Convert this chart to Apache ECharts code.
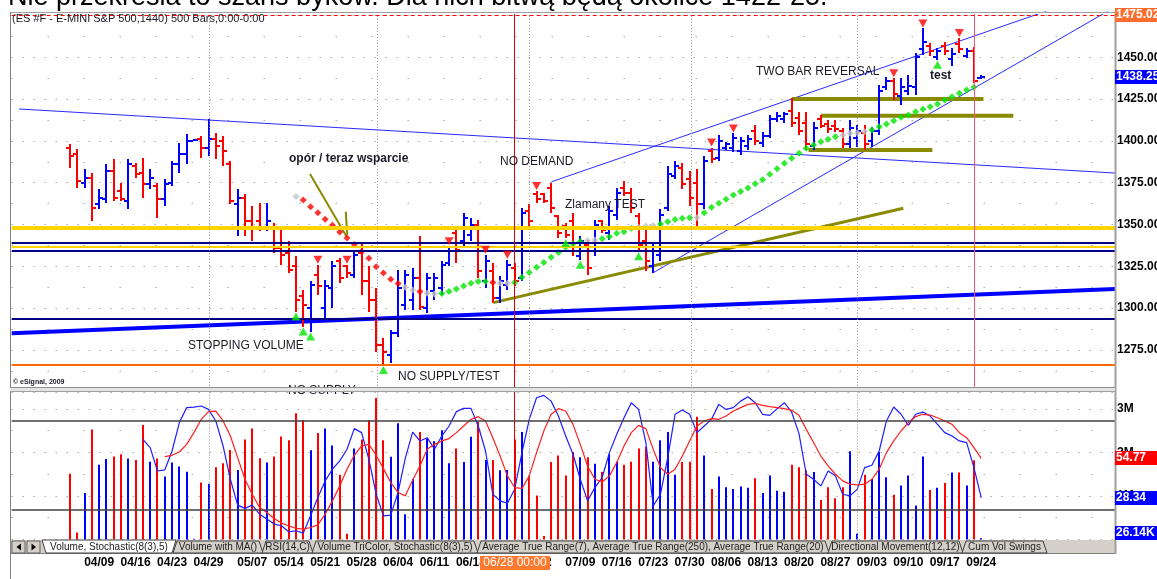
<!DOCTYPE html>
<html>
<head>
<meta charset="utf-8">
<script src="https://cdn.jsdelivr.net/npm/echarts@6/dist/echarts.min.js"></script>
<style>
    html, body {margin: 0; padding: 0; background: #fff;}
    #chart {width: 1157px; height: 579px;}
</style>
</head>
<body>
<div id="chart"></div>
<script>
// daily bars, ES #F 2012-04-02 .. 2012-09-24 (index = bar number)
var opens = [1396,1392,1375,1378,1362,1365,1382,1370,1364,1385, 1381,1374,1373,1365,1375,1386,1392,1400,1401,1396,
    1401,1400,1386,1362,1366,1352,1352,1348,1348,1336, 1333,1325,1307,1300,1320,1300,1312,1328,1325,1320,
    1333,1316,1305,1278,1272,1285,1302,1305,1318,1300, 1310,1312,1327,1345,1340,1344,1350,1316,1322,1306,
    1314,1324,1318,1358,1368,1368,1372,1355,1349,1352, 1331,1338,1334,1352,1345,1356,1372,1369,1355,1340,
    1325,1332,1360,1379,1384,1377,1375,1362,1394,1390, 1396,1396,1394,1397,1406,1399,1403,1413,1413,1418,
    1414,1411,1397,1413,1410,1409,1406,1398,1402,1405, 1400,1406,1432,1436,1427,1430,1432,1455,1457,1450,
    1457,1449,1458,1451,1454,1437.5];
var highs = [1398,1395,1383,1381,1371,1386,1389,1375,1389,1387, 1390,1383,1375,1377,1388,1399,1404,1401,1403,1413,
    1405,1403,1388,1371,1368,1361,1363,1363,1351,1348, 1340,1331,1311,1316,1326,1317,1328,1330,1326,1334,
    1339,1325,1312,1282,1287,1323,1323,1324,1343,1321, 1321,1328,1337,1349,1357,1354,1353,1332,1327,1319,
    1329,1327,1360,1362,1370,1369,1375,1356,1351,1357, 1343,1341,1353,1353,1361,1372,1376,1372,1357,1347,
    1339,1359,1385,1388,1387,1382,1383,1391,1396,1403.5, 1399.5,1404.5,1402.5,1403.5,1409.5,1405.5,1415.5,1417.5,1417.5,1425.5,
    1417.5,1417.5,1411.5,1415.5,1412.5,1412.5,1407.5,1412.5,1409.5,1409.5, 1408.5,1433.5,1438.5,1437.5,1437.5,1439.5,1452.5,1467.25,1458.5,1455.5,
    1459.25,1455.5,1461.5,1455.5,1456.25,1439.5];
var lows = [1384,1372,1372,1352,1359,1363,1364,1364,1359,1378, 1366,1371,1354,1361,1373,1381,1386,1400,1390,1391,
    1389,1385,1362,1343,1343,1340,1346,1346,1333,1326, 1321,1298,1289,1286,1308,1294,1300,1315,1318,1318,
    1308,1298,1274,1266,1267,1283,1299,1299,1299,1297, 1305,1308,1325,1327,1337,1340,1318,1312,1303,1303,
    1311,1313,1316,1349,1363,1363,1357,1342,1342,1331, 1329,1320,1331,1345,1341,1353,1367,1357,1334,1322,
    1321,1328,1358,1377,1371,1361,1349,1359,1387,1388, 1394.5,1393.5,1391.5,1394.5,1397.5,1396.5,1401.5,1411.5,1410.5,1408.5,
    1403.5,1394.5,1394.5,1407.5,1404.5,1405.5,1395.5,1395.5,1396.5,1394.5, 1396.5,1403.5,1430.5,1424.5,1421.5,1427.5,1427.5,1451.5,1450.5,1448.5,
    1451.5,1444.5,1452.5,1449.5,1434.5,1437];
var closes = [1391,1376,1378,1360,1366,1382,1366,1365,1386,1380, 1374,1378,1365,1374,1386,1392,1400,1400.5,1396,1401,
    1397,1394,1364,1366,1352,1348,1348,1352,1336,1332, 1323,1305,1302,1314,1313,1313,1325,1318,1321,1332,
    1316,1305,1278,1274,1285,1312,1320,1318,1301,1318, 1318,1326,1334,1335,1354,1350,1322,1328,1306,1316,
    1326,1316,1357,1352,1365,1364,1360,1345,1344,1334, 1340,1324,1350,1347,1358,1369,1369,1360,1338,1328,
    1334,1356,1380,1385,1374,1366,1362,1388,1389,1400, 1398,1402,1400,1401,1400,1403,1413,1415,1416,1411,
    1406,1398,1408,1409,1407,1407,1398,1408,1406,1398, 1406,1430,1436,1428,1432,1433,1450,1459,1454,1454,
    1454,1452,1455,1454,1436,1438.25];
// volume, millions
var volumes = [1.51,0.16,1.07,2.53,1.72,1.85,1.91,1.96,1.86,1.83, 2.63,1.79,1.86,1.45,1.77,1.68,1.56,0.02,1.31,1.28,
    1.66,1.75,2.06,1.60,2.30,2.55,1.87,1.77,1.91,2.37, 2.28,2.90,2.74,2.05,2.45,2.55,2.16,1.49,0.13,2.09,
    2.30,2.74,3.25,2.28,1.90,2.67,0.58,1.39,2.47,2.32, 2.26,2.51,1.75,2.09,1.78,2.36,2.70,1.83,1.83,1.59,
    1.60,2.30,2.47,1.47,1.01,0.08,1.78,1.93,1.47,2.01, 1.89,1.89,1.74,1.55,1.96,1.79,1.72,1.79,2.09,2.13,
    1.79,2.28,2.47,1.49,1.78,1.79,2.82,1.93,1.16,1.45, 1.20,1.16,1.22,1.19,1.41,1.07,1.47,1.12,1.10,1.72,
    1.66,1.59,1.55,0.91,1.20,0.95,1.20,2.03,0.13,1.49, 1.39,2.01,1.43,1.03,1.24,1.47,0.78,1.91,1.14,1.19,
    1.30,1.54,1.54,1.24,1.82,0.02614];
// Stochastic(8(3),5): %K and %D
var stochK = [null,null,null,null,null,null,null,null,null,null, 67.7,62.1,46.3,47.0,59.8,79.0,89.1,89.5,90.2,87.9,
    80.1,63.2,40.7,23.2,21.0,23.2,17.1,13.8,10.4,9.3, 5.2,5.9,4.3,16.0,28.4,39.6,47.5,53.1,61.0,74.9,
    72.2,54.2,30.6,16.0,16.5,31.8,55.0,72.6,66.6,68.8, 61.0,69.9,76.7,86.4,88.6,88.6,76.7,59.8,30.6,26.1,
    24.5,34.0,58.7,81.2,95.8,97.4,93.5,83.4,69.9,57.6, 40.7,26.1,35.1,41.9,58.7,71.1,82.3,92.4,87.9,65.5,
    22.7,30.6,55.3,84.6,87.5,84.6,72.2,76.7,81.2,91.3, 87.9,89.1,93.5,96.5,92.4,84.6,83.9,88.4,92.4,86.0,
    71.5,44.1,40.7,36.2,46.3,43.0,30.6,29.5,34.0,48.6, 50.2,59.8,80.1,89.5,84.6,77.1,84.6,86.1,83.4,77.8,
    72.2,69.9,66.6,65.5,48.6,28.34];
var stochD = [null,null,null,null,null,null,null,null,null,null, null,null,null,56.0,56.9,59.1,64.3,72.2,81.2,86.4,
    86.8,80.1,69.9,55.3,40.7,30.6,21.6,18.3,14.2,11.1, 9.3,7.5,7.0,8.1,9.9,17.1,26.1,36.2,47.5,56.9,
    63.2,64.3,56.9,47.9,38.5,31.8,29.5,40.0,49.7,61.0, 64.3,66.6,68.2,72.2,76.7,81.2,83.0,80.1,68.8,56.4,
    43.0,35.1,34.5,43.0,58.7,73.3,84.6,88.4,86.8,77.8, 64.3,49.7,40.7,38.9,43.0,52.0,63.2,72.2,77.1,74.9,
    61.0,48.6,44.1,47.5,56.4,66.6,76.7,80.1,81.7,81.2, 83.4,86.8,89.1,91.3,92.0,90.6,89.8,89.1,88.4,87.3,
    83.9,74.4,65.5,56.4,49.7,44.1,39.6,37.4,36.9,37.4, 40.7,47.5,58.7,66.6,73.3,79.0,83.0,84.6,84.1,82.3,
    80.1,77.8,72.2,68.8,62.1,54.77];
// colored moving average (dots) and its state: 1 up, -1 down, 0 flat
var maStart = 31;
var maValues = [1366.7,1364.7,1360.7,1357.0,1353.2,1349.6,1345.6,1342.0,1338.0,1333.8,
    1329.8,1324.8,1321.0,1317.3,1314.7,1312.5,1310.9,1309.9,1308.9,1308.5,
    1308.7,1309.9,1311.5,1313.3,1314.9,1315.9,1315.9,1315.3,1314.9,1314.9,
    1315.3,1318.5,1321.3,1324.5,1327.3,1330.5,1333.3,1336.5,1338.5,1339.8,
    1340.5,1340.8,1341.5,1342.7,1344.8,1345.7,1347.8,1348.4,1349.2,1349.4,
    1350.4,1351.7,1353.0,1353.7,1354.0,1354.0,1357.1,1360.3,1362.7,1365.1,
    1367.7,1369.8,1371.9,1374.4,1376.8,1380.0,1383.3,1386.6,1389.6,1392.6,
    1395.6,1397.6,1399.5,1401.0,1402.5,1403.5,1404.6,1404.9,1405.5,1406.5,
    1408.5,1410.1,1412.1,1414.1,1415.5,1417.5,1418.9,1420.5,1422.1,1424.5,
    1426.4,1428.5,1430.4,1432.1];
var maTrend = [0,-1,-1,-1,-1,-1,-1,-1,-1,-1, -1,-1,-1,-1,-1,0,0,-1,0,0,
    1,1,1,1,1,1,1,-1,0,0, 1,1,1,1,1,1,1,1,1,1,
    0,0,1,1,1,1,1,0,0,0, 1,1,1,1,1,0,1,1,1,1,
    1,1,1,1,1,1,1,1,1,1, 1,1,1,1,1,0,0,0,0,1,
    1,1,1,1,1,1,1,1,1,1, 1,1,1,1];
// swing markers
var sellBars = [34, 38, 52, 57, 60, 64, 88, 91, 113, 117, 122];
var buyBars = [31, 32, 33, 43, 68, 70, 78, 119];

// x axis
var tickBars = [4, 9, 14, 19, 25, 30, 35, 40, 45, 50, 55, 64, 70, 75, 80, 85, 90, 95, 100, 105, 110, 115, 120, 125];
var tickLabels = ['04/09', '04/16', '04/23', '04/29', '05/07', '05/14', '05/21', '05/28', '06/04', '06/11', '06/18', '07/02',
    '07/09', '07/16', '07/23', '07/30', '08/06', '08/13', '08/20', '08/27', '09/03', '09/10', '09/17', '09/24'];
var cursorBar = 61, cursorLabel = '06/28 00:00';
var lastBar = 124.1;
var gridBars = [19.07, 42.1, 62.96, 85.2, 107.96];

// drawn studies, [bar, price]
var levels = [1475.02, 1348.1, 1339.15, 1336.7, 1334.4, 1293.5, 1266.2];
var downTrend = [[-7.0, 1419.1], [143.35, 1380.8]];
var channelTop = [[66.06, 1375.6], [134.4, 1478.3]];
var channelBottom = [[80.0, 1321.2], [142.66, 1478.3]];
var supportLine = [[-8, 1285.0], [143.35, 1311.5]];
var risingLine = [[58.07, 1303.3], [114.31, 1359.7]];
var arrowA = [[32.92, 1380.2], [37.96, 1342.7]];
var arrowB = [[37.82, 1357.7], [38.04, 1343.8]];
var shelf1425 = [[99.04, 1425.0], [125.3, 1425.0]];
var shelf1415 = [[103.0, 1415.1], [129.4, 1415.1]];
var shelf1395 = [[101.3, 1394.6], [118.3, 1394.6]];

var RED = '#ff0000', BLUE = '#0000ff', GREEN = '#00e600', GRAY = '#c4c4c4';
var OLIVE = '#8a8a00', NAVY = '#000080', YELLOW = '#ffd400', ORANGE = '#ff6a00';
var FONT = 'Liberation Sans, Arial, sans-serif';

var chart = echarts.init(document.getElementById('chart'));

function renderBar(params, api) {
    var i = api.value(0);
    var h = api.coord([i, api.value(2)]);
    var l = api.coord([i, api.value(3)]);
    var o = api.coord([i, api.value(1)]);
    var c = api.coord([i, api.value(4)]);
    var color = api.value(4) >= api.value(1) ? BLUE : RED;
    var x = Math.round(h[0]);
    var yh = Math.round(h[1]), yl = Math.round(l[1]);
    if (yl - yh < 2) {
        yl = yh + 2;
    }
    return {
        type: 'group',
        children: [
            {type: 'rect', shape: {x: x - 1, y: yh, width: 2, height: yl - yh}, style: {fill: color}},
            {type: 'rect', shape: {x: x - 4, y: Math.round(o[1]) - 1, width: 3, height: 2}, style: {fill: color}},
            {type: 'rect', shape: {x: x + 1, y: Math.round(c[1]) - 1, width: 3, height: 2}, style: {fill: color}}
        ]
    };
}

function renderVolume(params, api) {
    var i = api.value(0);
    var top = api.coord([i, api.value(1)]);
    var base = api.coord([i, 0]);
    var x = Math.round(top[0]);
    return {
        type: 'rect',
        shape: {x: x - 1, y: top[1], width: 2, height: base[1] - top[1]},
        style: {fill: closes[i] >= opens[i] ? BLUE : RED}
    };
}

function studyLine(name, points, color, width, z) {
    return {
        name: name, type: 'line', xAxisIndex: 0, yAxisIndex: 0,
        data: points, symbol: 'none', silent: true, clip: true, z: z || 2,
        lineStyle: {color: color, width: width}
    };
}

var barData = opens.map(function (o, i) {
    return [i, o, highs[i], lows[i], closes[i]];
});
var volData = volumes.map(function (v, i) {
    return [i, v];
});
var kData = [], dData = [];
stochK.forEach(function (v, i) {
    if (v != null) kData.push([i, v]);
});
stochD.forEach(function (v, i) {
    if (v != null) dData.push([i, v]);
});
var maData = maValues.map(function (v, k) {
    return [maStart + k, v, maTrend[k]];
});

var monthLines = gridBars.map(function (b) {
    return {xAxis: b, lineStyle: {color: '#8c8c8c', type: [1, 2], width: 1}};
});

var option = {
    animation: false,
    backgroundColor: '#fff',
    grid: [
        {left: 11.68, right: 42, top: 12, height: 379.8, containLabel: false, outerBoundsMode: 'none'},
        {left: 11.68, right: 42, top: 391.5, height: 148, containLabel: false, outerBoundsMode: 'none'}
    ],
    xAxis: [
        {type: 'value', gridIndex: 0, min: -8, max: 143.35, show: false, splitLine: {show: false}},
        {
            type: 'value', gridIndex: 1, min: -8, max: 143.35, interval: 1,
            axisLine: {show: false}, axisTick: {show: false}, splitLine: {show: false},
            axisLabel: {
                margin: 17.5, color: '#000', fontFamily: FONT, fontSize: 12, fontWeight: 'bold',
                showMinLabel: true, showMaxLabel: true, hideOverlap: false,
                formatter: function (v) {
                    var r = Math.round(v);
                    if (Math.abs(v - r) > 1e-6) return '';
                    var k = tickBars.indexOf(r);
                    return k >= 0 ? tickLabels[k] : '';
                }
            }
        }
    ],
    yAxis: [
        {
            type: 'value', gridIndex: 0, position: 'right', min: 1250, max: 1477.08, interval: 25,
            axisLine: {show: false}, axisTick: {show: false},
            axisLabel: {
                margin: 2, color: '#000', fontFamily: FONT, fontSize: 12, fontWeight: 'bold',
                formatter: function (v) {
                    return (v >= 1275 && v <= 1450) ? v.toFixed(2) : '';
                }
            },
            splitLine: {show: true, lineStyle: {color: '#808080', type: [1, 10], width: 1}},
            minorTick: {show: false, splitNumber: 2},
            minorSplitLine: {show: true, lineStyle: {color: '#808080', type: [1, 35], width: 1}}
        },
        {
            type: 'value', gridIndex: 1, position: 'right', min: 0, max: 3.402, interval: 1,
            axisLine: {show: false}, axisTick: {show: false},
            axisLabel: {
                margin: 2, color: '#000', fontFamily: FONT, fontSize: 12, fontWeight: 'bold',
                formatter: function (v) {
                    return (v >= 1 && v <= 3 && v === Math.round(v)) ? v + 'M' : '';
                }
            },
            splitLine: {show: true, lineStyle: {color: '#808080', type: [1, 10], width: 1}},
            minorTick: {show: false, splitNumber: 2},
            minorSplitLine: {show: true, lineStyle: {color: '#808080', type: [1, 35], width: 1}}
        },
        {type: 'value', gridIndex: 1, min: 0, max: 100, show: false, splitLine: {show: false}}
    ],
    series: [
        {
            name: 'levels', type: 'line', xAxisIndex: 0, yAxisIndex: 0, data: supportLine, z: 1,
            symbol: 'none', silent: true, lineStyle: {color: BLUE, width: 4},
            markLine: {
                silent: true, symbol: 'none', label: {show: false}, animation: false,
                data: [
                    {yAxis: levels[0], lineStyle: {color: RED, type: [4, 3], width: 1}},
                    {yAxis: levels[1], lineStyle: {color: YELLOW, type: 'solid', width: 4}},
                    {yAxis: levels[2], lineStyle: {color: NAVY, type: 'solid', width: 2}},
                    {yAxis: levels[3], lineStyle: {color: YELLOW, type: 'solid', width: 2}},
                    {yAxis: levels[4], lineStyle: {color: NAVY, type: 'solid', width: 2}},
                    {yAxis: levels[5], lineStyle: {color: NAVY, type: 'solid', width: 2}},
                    {yAxis: levels[6], lineStyle: {color: ORANGE, type: 'solid', width: 2}},
                    {xAxis: cursorBar, lineStyle: {color: '#e00000', type: 'solid', width: 1}},
                    {xAxis: lastBar, lineStyle: {color: '#ff5078', type: 'solid', width: 1}}
                ].concat(monthLines)
            }
        },
        studyLine('downTrend', downTrend, '#2a2aff', 1),
        studyLine('channelTop', channelTop, '#2a2aff', 1),
        studyLine('channelBottom', channelBottom, '#2a2aff', 1),
        studyLine('risingLine', risingLine, OLIVE, 3),
        studyLine('arrowA', arrowA, OLIVE, 2),
        studyLine('arrowB', arrowB, OLIVE, 2),
        studyLine('shelf1425', shelf1425, OLIVE, 4),
        studyLine('shelf1415', shelf1415, OLIVE, 4),
        studyLine('shelf1395', shelf1395, OLIVE, 4),
        {
            name: 'ES', type: 'custom', xAxisIndex: 0, yAxisIndex: 0, z: 3,
            renderItem: renderBar, data: barData, encode: {x: 0, y: [1, 2, 3, 4]}, silent: true
        },
        {
            name: 'MA', type: 'scatter', xAxisIndex: 0, yAxisIndex: 0, z: 4, silent: true,
            symbol: 'diamond', symbolSize: 7, data: maData,
            itemStyle: {
                color: function (p) {
                    var t = p.data[2];
                    return t > 0 ? GREEN : (t < 0 ? RED : GRAY);
                }
            }
        },
        {
            name: 'sell', type: 'scatter', xAxisIndex: 0, yAxisIndex: 0, z: 5, silent: true,
            symbol: 'triangle', symbolRotate: 180, symbolSize: [9, 8], symbolOffset: [0, -5],
            data: sellBars.map(function (b) { return [b, highs[b]]; }),
            itemStyle: {color: RED}
        },
        {
            name: 'buy', type: 'scatter', xAxisIndex: 0, yAxisIndex: 0, z: 5, silent: true,
            symbol: 'triangle', symbolSize: [9, 8], symbolOffset: [0, 5],
            data: buyBars.map(function (b) { return [b, lows[b]]; }),
            itemStyle: {color: GREEN}
        },
        {
            name: 'Volume', type: 'custom', xAxisIndex: 1, yAxisIndex: 1, z: 2,
            renderItem: renderVolume, data: volData, encode: {x: 0, y: 1}, silent: true
        },
        {
            name: '%K', type: 'line', xAxisIndex: 1, yAxisIndex: 2, z: 3, data: kData,
            symbol: 'none', silent: true, lineStyle: {color: '#1e1eff', width: 1.2},
            markLine: {
                silent: true, symbol: 'none', label: {show: false}, animation: false,
                data: [
                    {yAxis: 20, lineStyle: {color: '#404040', type: 'solid', width: 1.5}},
                    {yAxis: 80, lineStyle: {color: '#404040', type: 'solid', width: 1.5}},
                    {xAxis: cursorBar, lineStyle: {color: '#e00000', type: 'solid', width: 1}}
                ].concat(monthLines)
            }
        },
        {
            name: '%D', type: 'line', xAxisIndex: 1, yAxisIndex: 2, z: 3, data: dData,
            symbol: 'none', silent: true, lineStyle: {color: '#ff2020', width: 1.2}
        }
    ]
};
chart.setOption(option);

// chrome of the eSignal window: frame, value boxes, tabs, notes
function py(value) {
    return chart.convertToPixel({yAxisIndex: 0}, value);
}
function txt(x, y, s, size, weight, extra) {
    var st = {text: s, x: x, y: y, fill: '#1a1a28', font: (weight || 'normal') + ' ' + size + 'px ' + FONT, verticalAlign: 'middle'};
    if (extra) {
        for (var k in extra) st[k] = extra[k];
    }
    return {type: 'text', z: 20, style: st};
}
function valueBox(y, s, fill) {
    return {
        type: 'group', z: 100,
        children: [
            {type: 'rect', z: 100, shape: {x: 1115, y: Math.round(y) - 7, width: 42, height: 14}, style: {fill: fill}},
            {type: 'text', z: 101, style: {text: s, x: 1116, y: Math.round(y), fill: '#fff', font: 'bold 12px ' + FONT, verticalAlign: 'middle'}}
        ]
    };
}

var stochY = function (v) { return chart.convertToPixel({yAxisIndex: 2}, v); };
var volY = function (v) { return chart.convertToPixel({yAxisIndex: 1}, v); };
var cursorX = chart.convertToPixel({xAxisIndex: 1}, cursorBar);
var lastVol = volumes[volumes.length - 1];

var tabs = [
    ['Volume with MA()', 173, 263],
    ['RSI(14,C)', 262, 313],
    ['Volume TriColor, Stochastic(8(3),5)', 312, 478],
    ['Average True Range(7), Average True Range(250), Average True Range(20)', 477, 829],
    ['Directional Movement(12,12)', 828, 963],
    ['Cum Vol Swings', 962, 1047]
];
var tabEls = [];
tabs.forEach(function (t) {
    tabEls.push({
        type: 'polygon', z: 30,
        shape: {points: [[t[1], 553], [t[1] + 4, 541], [t[2] - 4, 541], [t[2], 553]]},
        style: {fill: '#d4d0c8', stroke: '#404040', lineWidth: 1}
    });
    tabEls.push({
        type: 'text', z: 31,
        style: {text: t[0], x: (t[1] + t[2]) / 2, y: 547.5, fill: '#202020', font: '10px ' + FONT, align: 'center', verticalAlign: 'middle'}
    });
});
tabEls.push({
    type: 'polygon', z: 32,
    shape: {points: [[42, 540], [46, 553], [172, 553], [176, 540]]},
    style: {fill: '#fff', stroke: '#404040', lineWidth: 1}
});
tabEls.push({
    type: 'text', z: 33,
    style: {text: 'Volume, Stochastic(8(3),5)', x: 109, y: 547.5, fill: '#202020', font: '10px ' + FONT, align: 'center', verticalAlign: 'middle'}
});

var graphic = [
    {type: 'text', z: 20, style: {text: 'Nie przekreśla to szans byków. Dla nich bitwą będą okolice 1422-25.', x: 8, y: 11.5, fill: '#000', font: '27px ' + FONT, verticalAlign: 'bottom'}},
    {type: 'rect', z: 19, shape: {x: 0, y: 12, width: 1157, height: 2}, style: {fill: '#fff'}},
    {type: 'line', z: 40, shape: {x1: 10, y1: 12.5, x2: 1115, y2: 12.5}, style: {stroke: '#a0a0a0', lineWidth: 1}},
    {type: 'line', z: 40, shape: {x1: 10.5, y1: 12, x2: 10.5, y2: 579}, style: {stroke: '#808080', lineWidth: 1}},
    {type: 'line', z: 40, shape: {x1: 1115.5, y1: 12, x2: 1115.5, y2: 554}, style: {stroke: '#a0a0a0', lineWidth: 2}},
    txt(288, 384.5, 'NO SUPPLY', 12, 'normal', {verticalAlign: 'top'}),
    {type: 'rect', z: 50, shape: {x: 10, y: 387, width: 1105, height: 5}, style: {fill: '#e4e4e4'}},
    {type: 'line', z: 51, shape: {x1: 10, y1: 387.5, x2: 1115, y2: 387.5}, style: {stroke: '#909090', lineWidth: 1}},
    {type: 'line', z: 51, shape: {x1: 10, y1: 391.5, x2: 1115, y2: 391.5}, style: {stroke: '#a0a0a0', lineWidth: 1}},
    {type: 'rect', z: 29, shape: {x: 11, y: 540, width: 1104, height: 14}, style: {fill: '#d4d0c8'}},
    {type: 'line', z: 29, shape: {x1: 11, y1: 553.5, x2: 1115, y2: 553.5}, style: {stroke: '#808080', lineWidth: 1}},
    {type: 'rect', z: 30, shape: {x: 12, y: 541, width: 13, height: 12}, style: {fill: '#d4d0c8', stroke: '#606060', lineWidth: 1}},
    {type: 'rect', z: 30, shape: {x: 27, y: 541, width: 13, height: 12}, style: {fill: '#d4d0c8', stroke: '#606060', lineWidth: 1}},
    {type: 'polygon', z: 31, shape: {points: [[21, 543.5], [21, 550.5], [16.5, 547]]}, style: {fill: '#000'}},
    {type: 'polygon', z: 31, shape: {points: [[31.5, 543.5], [31.5, 550.5], [36, 547]]}, style: {fill: '#000'}},
    txt(12, 18.5, '(ES #F - E-MINI S&P 500,1440) 500 Bars,0:00-0:00', 11),
    txt(289, 159, 'opór / teraz wsparcie', 12, 'bold'),
    txt(500, 162, 'NO DEMAND', 12),
    txt(565, 205, 'Zlamany TEST', 12),
    txt(756, 72, 'TWO BAR REVERSAL', 12),
    txt(930, 76, 'test', 12, 'bold'),
    txt(188, 346, 'STOPPING VOLUME', 12),
    txt(398, 377, 'NO SUPPLY/TEST', 12),
    txt(13, 382, '© eSignal, 2009', 7, 'bold'),
    valueBox(py(levels[0]), '1475.02', '#ff6d2e'),
    valueBox(py(closes[closes.length - 1]), closes[closes.length - 1].toFixed(2), BLUE),
    valueBox(stochY(stochD[stochD.length - 1]), stochD[stochD.length - 1].toFixed(2), RED),
    valueBox(stochY(stochK[stochK.length - 1]), stochK[stochK.length - 1].toFixed(2), BLUE),
    valueBox(Math.min(volY(lastVol), 533), (lastVol * 1000).toFixed(2) + 'K', BLUE),
    {
        type: 'group', z: 100,
        children: [
            {type: 'rect', z: 100, shape: {x: Math.round(cursorX) - 35, y: 556, width: 70, height: 14}, style: {fill: '#ff7a30'}},
            {type: 'text', z: 101, style: {text: cursorLabel, x: Math.round(cursorX), y: 563, fill: '#fff', font: '12px ' + FONT, align: 'center', verticalAlign: 'middle'}}
        ]
    }
].concat(tabEls);

chart.setOption({graphic: graphic});
</script>
</body>
</html>
